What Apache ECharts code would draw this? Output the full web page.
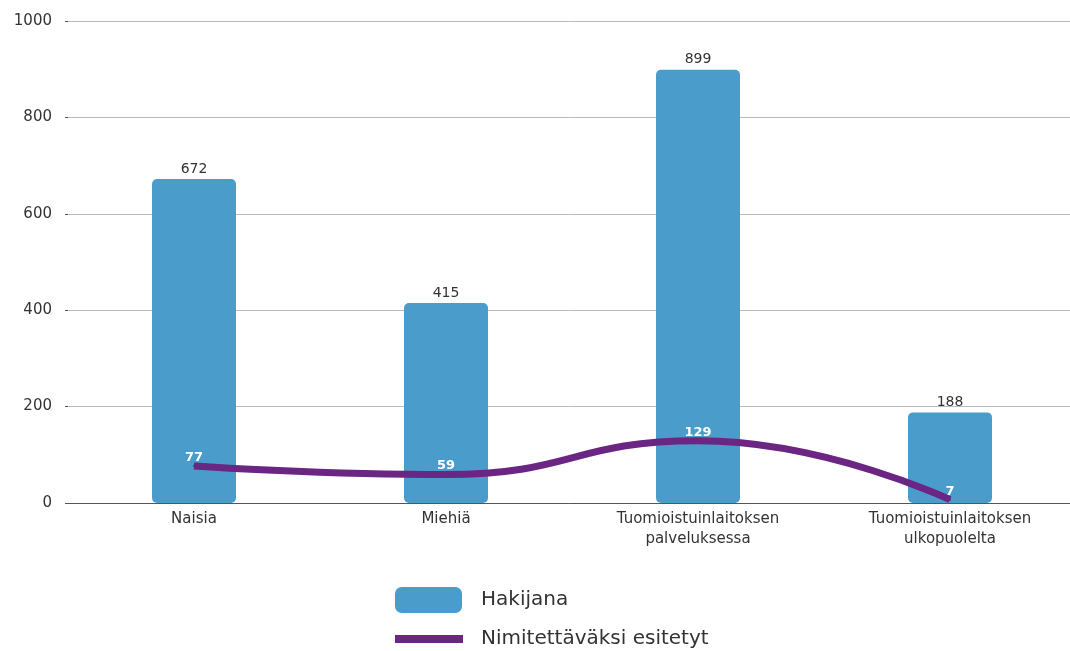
<!DOCTYPE html>
<html><head><meta charset="utf-8">
<script src="https://cdn.jsdelivr.net/npm/echarts@6/dist/echarts.min.js"></script>
<style>html,body{margin:0;padding:0;background:#fff}#c{width:1070px;height:651px}</style>
</head><body><div id="c"></div>
<script>
const categories = ['Naisia', 'Miehiä', 'Tuomioistuinlaitoksen\npalveluksessa', 'Tuomioistuinlaitoksen\nulkopuolelta'];
const hakijana = [672, 415, 899, 188];
const nimitetyt = [77, 59, 129, 7];
const yTicks = [0, 200, 400, 600, 800, 1000];
const font = 'DejaVu Sans';
const chart = echarts.init(document.getElementById('c'));
chart.setOption({
  animation: false,
  textStyle: {fontFamily: font},
  grid: {left: 68, width: 1008, top: 21, height: 482, outerBoundsMode: 'none', containLabel: false},
  legend: [
    {data: ['Hakijana'], left: 390, top: 582, orient: 'vertical', itemWidth: 67, itemHeight: 26, icon: 'roundRect',
     textStyle: {fontSize: 20, color: '#333', fontFamily: font, padding: [0, 0, 0, 14]}},
    {data: ['Nimitettäväksi esitetyt'], left: 390, top: 624, orient: 'vertical', itemWidth: 68, itemHeight: 8, icon: 'rect',
     textStyle: {fontSize: 20, color: '#333', fontFamily: font, padding: [0, 0, 0, 13]}}
  ],
  xAxis: {
    type: 'category', data: categories,
    axisLine: {lineStyle: {color: '#555', width: 1}},
    axisTick: {show: false},
    axisLabel: {fontSize: 15, color: '#333', lineHeight: 20, margin: 6, interval: 0}
  },
  yAxis: {
    type: 'value', min: 0, max: 1000, interval: 200,
    axisLine: {show: false},
    axisTick: {show: true, length: 3, lineStyle: {color: '#555'}},
    splitLine: {lineStyle: {color: '#bbb', width: 1}},
    axisLabel: {fontSize: 15, color: '#333', margin: 16,
      formatter: v => yTicks.includes(v) ? String(v) : ''}
  },
  series: [
    {name: 'Hakijana', type: 'bar', data: hakijana, barWidth: 84, z: 1,
     itemStyle: {color: '#4a9cca', borderRadius: 5},
     label: {show: true, position: 'top', distance: 3, fontSize: 14, color: '#333', fontFamily: font}},
    {name: 'Nimitettäväksi esitetyt', type: 'line', data: nimitetyt, smooth: true, z: 3,
     symbol: 'circle', symbolSize: 2, showSymbol: true,
     lineStyle: {color: '#6b2582', width: 7, cap: 'butt'}, itemStyle: {color: '#6b2582'},
     label: {show: true, position: 'top', distance: 1, fontSize: 13, fontWeight: 'bold', color: '#ffffff', fontFamily: font}}
  ]
});
</script></body></html>
